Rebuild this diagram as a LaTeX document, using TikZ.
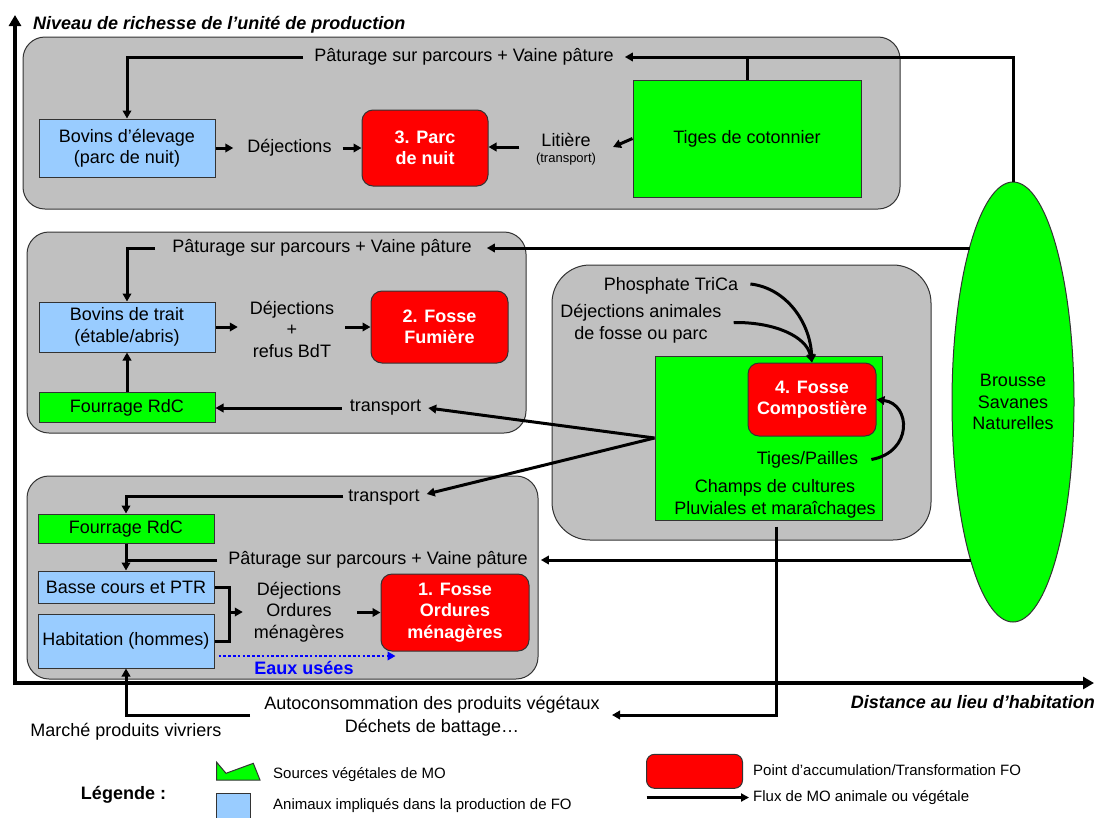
\documentclass[tikz,border=0pt]{standalone}
\usepackage{fontspec}
\setmainfont{Liberation Sans}
\usetikzlibrary{arrows.meta,shapes.geometric,calc}
\definecolor{boxgray}{HTML}{C0C0C0}
\definecolor{animblue}{HTML}{99CCFF}
\definecolor{plantgreen}{HTML}{00FF00}
\definecolor{fored}{HTML}{FF0000}
\definecolor{wasteblue}{HTML}{0000FF}
\definecolor{edgegray}{HTML}{333333}
\begin{document}
\begin{tikzpicture}[x=1pt,y=-1pt,
  every node/.style={font=\fontsize{18}{21.5}\selectfont, inner sep=0pt, align=center},
  zone/.style={draw=edgegray, fill=boxgray, rounded corners=22pt, line width=1pt},
  animbox/.style={draw=edgegray, fill=animblue, line width=1pt},
  plantbox/.style={draw=edgegray, fill=plantgreen, line width=1pt},
  fobox/.style={draw=edgegray, fill=fored, rounded corners=11pt, line width=1pt, text=white,
                font=\fontsize{18}{21.5}\selectfont\bfseries},
  flow/.style={line width=3pt, -{Triangle[length=8pt,width=8.5pt]}},
  flowline/.style={line width=3pt},
  axisline/.style={line width=4pt, -{Triangle[length=11pt,width=12pt]}},
  axislabel/.style={font=\fontsize{18}{21.5}\selectfont\bfseries\itshape},
  smalltext/.style={font=\fontsize{13}{15}\selectfont},
  legendtext/.style={font=\fontsize{15}{18}\selectfont, anchor=west},
  waste/.style={line width=2.6pt, wasteblue, dash pattern=on 2.6pt off 2.2pt,
                -{Triangle[length=8pt,width=8.5pt]}},
]
\useasboundingbox (0,0) rectangle (1097,817);

% ---------- zones ----------
\node[zone, minimum width=877pt, minimum height=172pt] (z1) at (461.5,123) {};
\node[zone, minimum width=499pt, minimum height=201pt] (z2) at (276.5,332.5) {};
\node[zone, minimum width=511pt, minimum height=203pt] (z3) at (282.5,577.5) {};
\node[zone, rounded corners=38pt, minimum width=379pt, minimum height=275pt] (z4) at (741.5,402.5) {};

% ---------- axes ----------
\coordinate (O) at (15,683);
\coordinate (Ytop) at (15,15);
\coordinate (Xend) at (1094,683);
\draw[axisline] ($(O)+(0,2)$) -- (Ytop);
\draw[axisline] ($(O)+(-2,0)$) -- (Xend);
\node[axislabel, anchor=base west] (ylab) at (33,29) {Niveau de richesse de l’unité de production};
\node[axislabel, anchor=base east] (xlab) at (1095,708) {Distance au lieu d’habitation};

% ---------- zone 1 ----------
\node[animbox, minimum width=176pt, minimum height=58pt] (bovE) at (127,148) {Bovins d’élevage\\(parc de nuit)};
\node[fobox, minimum width=126pt, minimum height=76pt] (red3) at (425,148) {3. Parc\\de nuit};
\node[plantbox, minimum width=228pt, minimum height=117pt] (tiges) at (747,138.5) {Tiges de cotonnier};
\node (p1) at (464,57) {Pâturage sur parcours + Vaine pâture};
\node (dej1) at (289.5,148) {Déjections};
\node (lit) at (566,140) {Litière};
\node[smalltext] (litT) at (566,159) {(transport)};
\coordinate (litin) at (613,147);

% ---------- zone 2 ----------
\node[animbox, minimum width=176pt, minimum height=50pt] (bovT) at (127,327) {Bovins de trait\\(étable/abris)};
\node[fobox, minimum width=137pt, minimum height=72pt] (red2) at (439.5,327) {2. Fosse\\Fumière};
\node[plantbox, minimum width=176pt, minimum height=30pt] (four1) at (127,407.5) {Fourrage RdC};
\node (p2) at (322,248) {Pâturage sur parcours + Vaine pâture};
\node (dej2) at (292,329) {Déjections\\+\\refus BdT};
\node (trans1) at (385.5,408) {transport};

% ---------- zone 4 ----------
\node[plantbox, minimum width=227pt, minimum height=164pt] (champs) at (768.5,438) {};
\node[fobox, minimum width=128pt, minimum height=73pt] (red4) at (812,399.5) {4. Fosse\\Compostière};
\node (phos) at (671,286) {Phosphate TriCa};
\node (dejA) at (641,323.5) {Déjections animales\\de fosse ou parc};
\node (tp) at (807.5,459.5) {Tiges/Pailles};
\node (champT) at (775,499) {Champs de cultures\\Pluviales et maraîchages};

% ---------- zone 3 ----------
\node[plantbox, minimum width=176pt, minimum height=29pt] (four2) at (126,528.5) {Fourrage RdC};
\node[animbox, minimum width=176pt, minimum height=32pt] (basse) at (126,587) {Basse cours et PTR};
\node[animbox, minimum width=176pt, minimum height=54pt] (habit) at (126,641) {Habitation (hommes)};
\node[fobox, minimum width=148pt, minimum height=77pt] (red1) at (455,612.5) {1. Fosse\\Ordures\\ménagères};
\node (trans2) at (384,498) {transport};
\node (p3) at (378,560) {Pâturage sur parcours + Vaine pâture};
\node (dej3) at (299,612) {Déjections\\Ordures\\ménagères};
\node[font=\fontsize{18}{21.5}\selectfont\bfseries, text=wasteblue] (eaux) at (304,668) {Eaux usées};

% ---------- savanes ----------
\node[plantbox, ellipse, minimum width=122pt, minimum height=440pt] (ell) at (1013,402) {Brousse\\Savanes\\Naturelles};
\coordinate (e2) at (969.5,248);
\coordinate (e3) at (970.5,560);

% ---------- bottom ----------
\node[font=\fontsize{18}{23}\selectfont] (auto) at (432,716) {Autoconsommation des produits végétaux\\Déchets de battage…};
\node (marche) at (126,732) {Marché produits vivriers};
\coordinate (autoR) at (612,715);
\coordinate (autoL) at (250,715);

% ---------- connectors zone 1 ----------
\draw[flow] ($(p1.west)+(-11,0)$) -| (bovE.north);
\draw[flow] (ell.north) |- ($(p1.east)+(11,0)$);
\draw[flowline] (tiges.north) -- (tiges.north |- p1);
\draw[flow] (bovE.east) -- ($(bovE.east -| dej1.west)+(-14,0)$);
\draw[flow] ($(red3.west -| dej1.east)+(11,0)$) -- (red3.west);
\draw[flow] ($(lit.west)+(-22,7)$) -- (red3.east |- {$(lit.west)+(0,7)$});
\draw[flow] (tiges.west) -- (litin);

% ---------- connectors zone 2 ----------
\draw[flow] ($(p2.west)+(-17,0)$) -| (bovT.north);
\draw[flow] (e2) -- ($(p2.east)+(15,0)$);
\draw[flow] (bovT.east) -- ($(bovT.east -| dej2.west)+(-12,0)$);
\draw[flow] ($(red2.west -| dej2.east)+(11,0)$) -- (red2.west);
\draw[flow] (four1.north) -- (bovT.south);
\draw[flow] ($(trans1.west)+(-8,0)$) -- (four1.east |- trans1);
\draw[flow] (champs.west) -- ($(trans1.east)+(7,0)$);

% ---------- connectors zone 3 ----------
\draw[flow] (champs.west) -- ($(trans2.east)+(7,-4)$);
\draw[flow] ($(trans2.west)+(-5,-2)$) -| (four2.north);
\draw[flow] (four2.south) -- (basse.north);
\draw[flowline] ($(p3.west)+(-11,0)$) -- (p3.west -| four2.south);
\draw[flow] (e3) -- ($(p3.east)+(13,0)$);
\draw[flowline] (basse.east) -- ++(14.5,0) |- (habit.east);
\coordinate (brk) at (228.5,612);
\draw[flow] (brk) -- ($(brk -| dej3.west)+(-11,0)$);
\draw[flow] ($(red1.west -| dej3.east)+(13,0)$) -- (red1.west);
\draw[waste] ($(habit.east)+(4,15)$) -- ($(red1.west)+(15,43.5)$);

% ---------- connectors zone 4 ----------
\draw[flow] ($(phos.east)+(12,-2)$) .. controls (786,288) and (810,322) .. (red4.north);
\draw[flow] ($(dejA.east)+(12,-1)$) .. controls (774,322) and (806,336) .. (red4.north);
\draw[flow] ($(tp.east)+(13,0)$) .. controls (913,452) and (911,404) .. (red4.east);

% ---------- bottom connectors ----------
\draw[flow] ($(champs.south)+(8,6)$) |- (autoR);
\draw[flow] (autoL) -| (habit.south);

% ---------- legend ----------
\node[font=\fontsize{18}{21.5}\selectfont\bfseries] (leg) at (123.5,795) {Légende :};
\draw[draw=edgegray, fill=plantgreen, line width=1pt]
  (216.7,762.3) -- (226,773.3) -- (253.3,763.3) -- (260,780) -- (216.7,780) -- cycle;
\node[legendtext] (lg1) at (273,775) {Sources végétales de MO};
\draw[draw=edgegray, fill=animblue, line width=1pt] (216.7,793.3) rectangle (250,819);
\node[legendtext] (lg2) at (273,806) {Animaux impliqués dans la production de FO};
\node[fobox, rounded corners=8pt, minimum width=96pt, minimum height=34pt] (lgred) at (694.5,771.3) {};
\node[legendtext] (lg3) at (753,770) {Point d’accumulation/Transformation FO};
\coordinate (lgA) at (646.7,797.5);
\node[legendtext] (lg4) at (753,798) {Flux de MO animale ou végétale};
\draw[line width=2.5pt, -{Triangle[length=8pt,width=8pt]}] (lgA) -- ($(lg4.west)+(-4,-0.5)$);
\end{tikzpicture}
\end{document}
